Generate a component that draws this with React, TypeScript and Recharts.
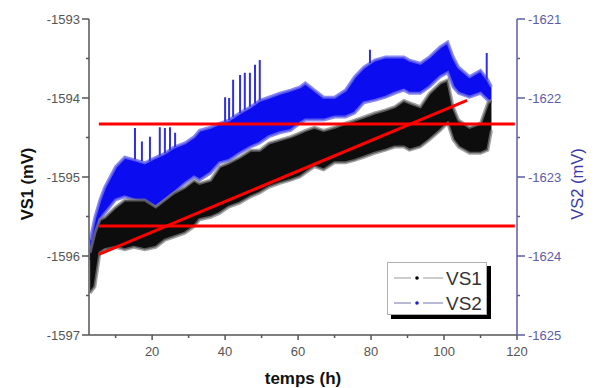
import React from 'react';
import { ComposedChart, Area, Line, XAxis, YAxis, ReferenceLine } from 'recharts';

// time (h)
const hours = [3, 4.3, 5.7, 7, 10, 12.5, 15, 18, 21, 23.5, 26, 29, 31.5, 33, 36, 38.5, 41, 44, 47, 49.5, 52, 55, 58, 60.5, 62, 64.5, 67, 70, 73, 75.5, 78, 81, 84, 86.5, 89, 90.5, 93.5, 96, 99, 101, 102.5, 104, 107, 110, 112, 113];

// VS1 (mV) noise envelope, upper / lower
const vs1Upper = [-1595.96, -1595.71, -1595.54, -1595.51, -1595.38, -1595.29, -1595.29, -1595.29, -1595.38, -1595.29, -1595.2, -1595.13, -1595.04, -1595.08, -1595.04, -1594.87, -1594.82, -1594.75, -1594.66, -1594.66, -1594.57, -1594.53, -1594.49, -1594.44, -1594.41, -1594.37, -1594.41, -1594.37, -1594.32, -1594.28, -1594.24, -1594.19, -1594.15, -1594.11, -1594.03, -1594.06, -1594.11, -1593.94, -1593.81, -1593.77, -1594.11, -1594.28, -1594.37, -1594.32, -1594.06, -1594.03];
const vs1Lower = [-1596.47, -1596.39, -1595.96, -1595.92, -1595.89, -1595.92, -1595.89, -1595.92, -1595.89, -1595.8, -1595.76, -1595.71, -1595.63, -1595.54, -1595.51, -1595.46, -1595.38, -1595.33, -1595.25, -1595.2, -1595.13, -1595.08, -1595.04, -1595.0, -1594.95, -1594.87, -1594.91, -1594.82, -1594.82, -1594.79, -1594.75, -1594.7, -1594.66, -1594.62, -1594.62, -1594.66, -1594.62, -1594.53, -1594.41, -1594.32, -1594.53, -1594.62, -1594.7, -1594.7, -1594.66, -1594.41];

// VS2 (mV) noise envelope, upper / lower
const vs2Upper = [-1623.8, -1623.51, -1623.29, -1623.13, -1622.87, -1622.75, -1622.78, -1622.82, -1622.75, -1622.7, -1622.62, -1622.57, -1622.49, -1622.41, -1622.37, -1622.32, -1622.28, -1622.19, -1622.11, -1622.03, -1621.99, -1621.94, -1621.9, -1621.86, -1621.81, -1621.9, -1621.99, -1621.99, -1621.9, -1621.73, -1621.61, -1621.52, -1621.48, -1621.48, -1621.48, -1621.52, -1621.56, -1621.48, -1621.35, -1621.29, -1621.48, -1621.61, -1621.73, -1621.65, -1621.77, -1621.86];
const vs2Lower = [-1624.05, -1623.92, -1623.54, -1623.46, -1623.29, -1623.25, -1623.29, -1623.33, -1623.38, -1623.29, -1623.2, -1623.08, -1623.0, -1623.04, -1622.95, -1622.82, -1622.79, -1622.7, -1622.62, -1622.57, -1622.49, -1622.44, -1622.41, -1622.32, -1622.28, -1622.28, -1622.28, -1622.24, -1622.24, -1622.19, -1622.06, -1622.03, -1621.99, -1621.94, -1621.9, -1621.94, -1621.94, -1621.86, -1621.73, -1621.68, -1621.86, -1621.94, -1621.99, -1621.94, -1622.03, -1622.06];

// VS2 spikes
const spikeHours = [15.3, 17.2, 19.4, 22.1, 23.5, 24.9, 26.3, 40.0, 41.1, 42.2, 44.1, 45.4, 46.8, 48.2, 49.5, 79.7, 111.7];
const spikeBase = [-1622.78, -1622.8, -1622.8, -1622.73, -1622.7, -1622.66, -1622.62, -1622.3, -1622.28, -1622.24, -1622.19, -1622.15, -1622.11, -1622.07, -1622.03, -1621.56, -1621.77];
const spikeTop = [-1622.38, -1622.55, -1622.49, -1622.37, -1622.38, -1622.37, -1622.44, -1621.99, -1622.0, -1621.77, -1621.71, -1621.68, -1621.68, -1621.58, -1621.52, -1621.39, -1621.43];

// red guide lines (VS1 units)
const upperLevel = -1594.33;
const lowerLevel = -1595.62;
const guideStart = 5.4;
const guideEnd = 119.4;
const trendStart = { x: 5.4, y: -1595.98 };
const trendEnd = { x: 106.3, y: -1594.03 };

const xTicks = [10, 20, 30, 40, 50, 60, 70, 80, 90, 100, 110, 120];
const leftTicks = [-1597, -1596.5, -1596, -1595.5, -1595, -1594.5, -1594, -1593.5, -1593];
const rightTicks = [-1625, -1624.5, -1624, -1623.5, -1623, -1622.5, -1622, -1621.5, -1621];

const data = hours.map((t, i) => ({ t, vs1: [vs1Lower[i], vs1Upper[i]], vs2: [vs2Lower[i], vs2Upper[i]] }));
const spikeData: any[] = [];
spikeHours.forEach((t, i) => {
  spikeData.push({ t, v: spikeBase[i] });
  spikeData.push({ t, v: spikeTop[i] });
  spikeData.push({ t, v: null });
});

const FONT = '"Liberation Sans", Arial, sans-serif';
const GREY = '#555';
const AXBLUE = '#5c5ca8';

const LeftTick = (p: any) => {
  const { x, y, payload } = p;
  const major = Number.isInteger(payload.value);
  return (
    <g>
      <line x1={x - (major ? 7 : 3)} x2={x} y1={y} y2={y} stroke={GREY} strokeWidth={1.5} />
      {major && (
        <text x={x - 9} y={y} dy={4.5} textAnchor="end" fontSize={13} fill={GREY} fontFamily={FONT}>
          {payload.value}
        </text>
      )}
    </g>
  );
};

const RightTick = (p: any) => {
  const { x, y, payload } = p;
  const major = Number.isInteger(payload.value);
  return (
    <g>
      <line x1={x} x2={x + (major ? 8 : 3)} y1={y} y2={y} stroke={AXBLUE} strokeWidth={1.5} />
      {major && (
        <text x={x + 11} y={y} dy={4.5} textAnchor="start" fontSize={13} fill={AXBLUE} fontFamily={FONT}>
          {payload.value}
        </text>
      )}
    </g>
  );
};

const BottomTick = (p: any) => {
  const { x, y, payload } = p;
  const major = payload.value % 20 === 0;
  return (
    <g>
      <line x1={x} x2={x} y1={y} y2={y + (major ? 5 : 3)} stroke={GREY} strokeWidth={1.5} />
      {major && (
        <text x={x} y={y + 21} textAnchor="middle" fontSize={13} fill={GREY} fontFamily={FONT}>
          {payload.value}
        </text>
      )}
    </g>
  );
};

const TopTick = (p: any) => {
  const { x, y, payload } = p;
  const major = payload.value % 20 === 0;
  return <line x1={x} x2={x} y1={y} y2={y + (major ? 6 : 4)} stroke={GREY} strokeWidth={1.5} />;
};

const LeftLabel = (p: any) => {
  const vb = p.viewBox || {};
  const cx = vb.x - 2;
  const cy = vb.y + vb.height / 2 + 7;
  return (
    <text x={cx} y={cy} transform={`rotate(-90 ${cx} ${cy})`} textAnchor="middle" dominantBaseline="central" fontSize={16.5} fontWeight="bold" fill="#111" fontFamily={FONT}>
      VS1 (mV)
    </text>
  );
};

const RightLabel = (p: any) => {
  const vb = p.viewBox || {};
  const cx = vb.x + vb.width;
  const cy = vb.y + vb.height / 2 + 7;
  return (
    <text x={cx} y={cy} transform={`rotate(-90 ${cx} ${cy})`} textAnchor="middle" dominantBaseline="central" fontSize={16.5} fill="#3b3ba6" fontFamily={FONT}>
      VS2 (mV)
    </text>
  );
};

const BottomLabel = (p: any) => {
  const vb = p.viewBox || {};
  const cx = vb.x + vb.width / 2;
  return (
    <text x={cx} y={vb.y + 49} textAnchor="middle" fontSize={17} fontWeight="bold" fill="#111" fontFamily={FONT}>
      temps (h)
    </text>
  );
};

const LegendBox = () => (
  <div style={{ position: 'absolute', left: 387, top: 262, width: 100, height: 53, background: '#fff', border: '1px solid #b0b0b0', boxShadow: '4px 4px 0 #000', boxSizing: 'border-box' }}>
    <svg width={100} height={53} style={{ position: 'absolute', left: 0, top: 0 }}>
      <line x1={6} x2={23} y1={15} y2={15} stroke="#aaa" strokeWidth={1.2} />
      <circle cx={29} cy={15} r={1.8} fill="#000" />
      <line x1={35} x2={55} y1={15} y2={15} stroke="#aaa" strokeWidth={1.2} />
      <text x={58} y={15} dy={7} fontSize={19} fill="#333" fontFamily={FONT}>VS1</text>
      <line x1={6} x2={23} y1={40} y2={40} stroke="#8a8ab8" strokeWidth={1.2} />
      <circle cx={29} cy={40} r={1.8} fill="#2020d0" />
      <line x1={35} x2={55} y1={40} y2={40} stroke="#8a8ab8" strokeWidth={1.2} />
      <text x={58} y={40} dy={7} fontSize={19} fill="#333" fontFamily={FONT}>VS2</text>
    </svg>
  </div>
);

export default function App() {
  return (
    <div style={{ position: 'absolute', left: 0, top: 0, width: 600, height: 388, background: '#fff' }}>
      <ComposedChart width={600} height={388} data={data} margin={{ top: 19, right: 23, bottom: 0, left: 29 }}>
        <XAxis xAxisId="b" dataKey="t" type="number" domain={[2.7, 120]} allowDataOverflow ticks={xTicks} interval={0} height={53} tickSize={0} tickMargin={0} tickLine={false} tick={<BottomTick />} axisLine={{ stroke: GREY, strokeWidth: 1.5 }} label={<BottomLabel />} />
        <XAxis xAxisId="t" orientation="top" dataKey="t" type="number" domain={[2.7, 120]} allowDataOverflow ticks={xTicks} interval={0} height={0} tickSize={0} tickMargin={0} tickLine={false} tick={<TopTick />} axisLine={{ stroke: '#777', strokeWidth: 1.5 }} />
        <YAxis yAxisId="left" orientation="left" type="number" domain={[-1597, -1593]} allowDataOverflow ticks={leftTicks} interval={0} width={60} tickSize={0} tickMargin={0} tickLine={false} tick={<LeftTick />} axisLine={{ stroke: GREY, strokeWidth: 1.5 }} label={<LeftLabel />} />
        <YAxis yAxisId="right" orientation="right" type="number" domain={[-1625, -1621]} allowDataOverflow ticks={rightTicks} interval={0} width={60} tickSize={0} tickMargin={0} tickLine={false} tick={<RightTick />} axisLine={{ stroke: AXBLUE, strokeWidth: 1.5 }} label={<RightLabel />} />
        <Area xAxisId="b" yAxisId="right" dataKey="vs2" type="linear" fill="#0c0cf0" fillOpacity={1} stroke="#6b6bee" strokeOpacity={0.8} strokeWidth={3} isAnimationActive={false} />
        <Line xAxisId="b" yAxisId="right" data={spikeData} dataKey="v" type="linear" stroke="#3030e0" strokeWidth={2} dot={false} connectNulls={false} isAnimationActive={false} />
        <Area xAxisId="b" yAxisId="left" dataKey="vs1" type="linear" fill="#0d0d0d" fillOpacity={1} stroke="#7a7a7a" strokeOpacity={0.7} strokeWidth={3} isAnimationActive={false} />
        <ReferenceLine xAxisId="b" yAxisId="left" segment={[{ x: guideStart, y: upperLevel }, { x: guideEnd, y: upperLevel }]} stroke="#ff0000" strokeWidth={3} />
        <ReferenceLine xAxisId="b" yAxisId="left" segment={[{ x: guideStart, y: lowerLevel }, { x: guideEnd, y: lowerLevel }]} stroke="#ff0000" strokeWidth={3} />
        <ReferenceLine xAxisId="b" yAxisId="left" segment={[trendStart, trendEnd]} stroke="#ff0000" strokeWidth={3} />
      </ComposedChart>
      <LegendBox />
    </div>
  );
}
